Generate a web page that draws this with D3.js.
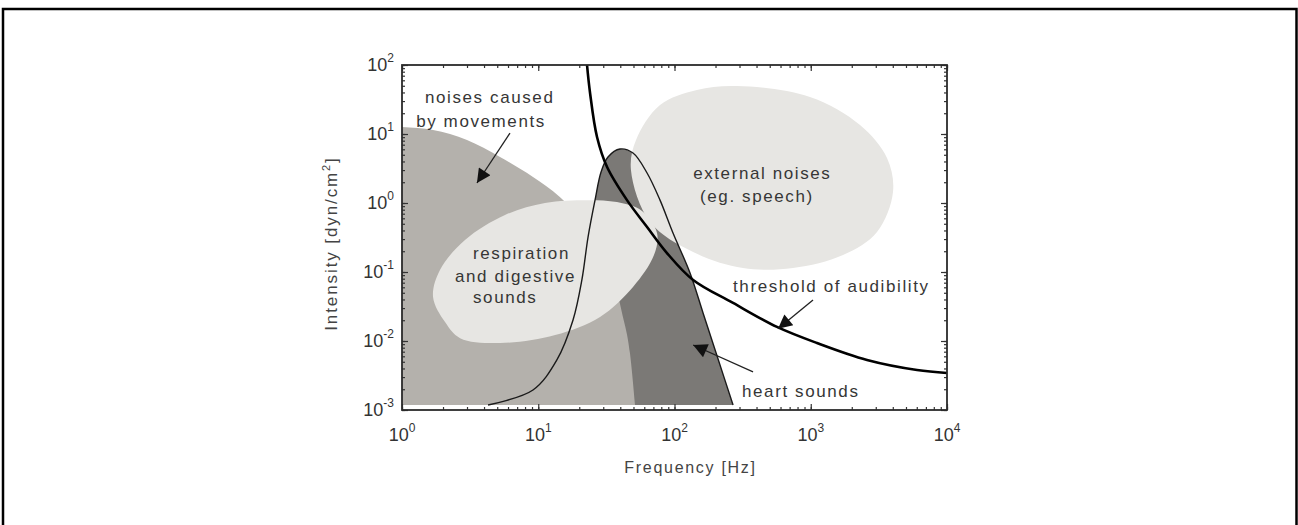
<!DOCTYPE html>
<html>
<head>
<meta charset="utf-8">
<script src="https://cdn.jsdelivr.net/npm/d3@7"></script>
<style>
  body { margin: 0; background: #fff; }
  text { font-family: "Liberation Sans", Arial, sans-serif; }
</style>
</head>
<body>
<script>
// frequency [Hz] / intensity [dyn/cm^2] outlines
var xExponents = [0, 1, 2, 3, 4];
var yExponents = [-3, -2, -1, 0, 1, 2];

var regionFloor = 0.00118;

// noises caused by movements (upper edge, region runs down to the floor)
var movementEdge = [[1, 12.6], [1.69, 11.4], [3.0, 8.18], [5.24, 4.64], [9.15, 2.38], [14.4, 1.22],
  [24.0, 0.406], [33.6, 0.126], [41.2, 0.0255], [47.1, 0.0067], [51.3, 0.00118]];

// heart sounds
var heartCurve = [[4.28, 0.00118], [9.15, 0.00195], [13.7, 0.00531], [18.0, 0.0201], [20.9, 0.0766],
  [23.2, 0.321], [26.1, 1.10], [28.9, 2.81], [32.5, 4.64], [39.8, 6.06], [49.6, 5.30], [62.9, 2.72],
  [78.3, 1.10], [97.5, 0.367], [130, 0.0968], [162, 0.0255], [202, 0.0067], [269, 0.00118]];

// respiration and digestive sounds (closed outline)
var respiration = [[22.8, 1.10], [37.8, 1.03], [57.7, 0.766], [74.4, 0.367], [70.7, 0.176], [49.6, 0.0606],
  [28.4, 0.0223], [13.3, 0.0122], [5.24, 0.00935], [2.67, 0.0110], [2.07, 0.0188], [1.69, 0.0435],
  [1.90, 0.107], [2.90, 0.291], [5.70, 0.670], [11.2, 1.00]];

// external noises (closed outline)
var externalNoise = [[288, 49.6], [987, 34.4], [2299, 13.5], [3628, 4.49], [4015, 1.44], [3064, 0.380],
  [1725, 0.176], [741, 0.114], [318, 0.114], [137, 0.195], [66.1, 0.531], [47.9, 3.01], [52.2, 8.18],
  [78.3, 26.3], [146, 43.5]];

// threshold of audibility
var threshold = [[22.8, 100], [24.0, 39.3], [27.0, 9.05], [32.0, 3.32], [44.8, 1.10], [62.9, 0.449],
  [88.1, 0.188], [137, 0.0766], [269, 0.0356], [565, 0.0160], [1111, 0.00935], [2588, 0.00531],
  [6026, 0.0038], [10000, 0.00344]];

// annotation text anchors (start of text, baseline)
var labels = [
  {text: "noises caused", at: [1.475, 28.1]},
  {text: "by movements", at: [1.27, 12.6]},
  {text: "respiration", at: [3.32, 0.154]},
  {text: "and digestive", at: [2.45, 0.0716]},
  {text: "sounds", at: [3.32, 0.0356]},
  {text: "external noises", at: [137, 2.23]},
  {text: "(eg. speech)", at: [154, 1.03]},
  {text: "threshold of audibility", at: [269, 0.0513]},
  {text: "heart sounds", at: [313, 0.00154]}
];

// arrows: from -> tip
var arrows = [
  [[6.20, 10.3], [3.55, 1.95]],
  [[1039, 0.0393], [575, 0.0150]],
  [[377, 0.00356], [137, 0.00875]]
];

var svgWidth = 1298;
var svgHeight = 525;
var plot = {left: 402, right: 947, top: 65, bottom: 410};

var svg = d3.select("body").append("svg").attr("width", svgWidth).attr("height", svgHeight);

// outer frame of the figure
svg.append("path")
  .attr("d", "M3,525V9H1296.5V525")
  .attr("fill", "none").attr("stroke", "#000").attr("stroke-width", 2.5);

var x = d3.scaleLog().domain([1, 1e4]).range([plot.left, plot.right]);
var y = d3.scaleLog().domain([1e-3, 1e2]).range([plot.bottom, plot.top]);

var defs = svg.append("defs");
defs.append("clipPath").attr("id", "plotClip")
  .append("rect")
  .attr("x", plot.left).attr("y", plot.top)
  .attr("width", plot.right - plot.left).attr("height", plot.bottom - plot.top);

var marker = defs.append("marker")
  .attr("id", "head")
  .attr("viewBox", "0 0 10 10")
  .attr("refX", 10).attr("refY", 5)
  .attr("markerUnits", "userSpaceOnUse")
  .attr("markerWidth", 18).attr("markerHeight", 14)
  .attr("orient", "auto");
marker.append("path").attr("d", "M0,0L10,5L0,10Z").attr("fill", "#111");

var g = svg.append("g").attr("clip-path", "url(#plotClip)");

var area = d3.area()
  .x(d => x(d[0]))
  .y0(y(regionFloor))
  .y1(d => y(d[1]))
  .curve(d3.curveCatmullRom.alpha(0.5));

var outline = d3.line()
  .x(d => x(d[0]))
  .y(d => y(d[1]))
  .curve(d3.curveCatmullRom.alpha(0.5));

var blob = d3.line()
  .x(d => x(d[0]))
  .y(d => y(d[1]))
  .curve(d3.curveCatmullRomClosed.alpha(0.5));

// layers: heart (dark) -> movements (medium) -> ellipses (light) -> outlines
g.append("path").attr("d", area(heartCurve)).attr("fill", "#7b7976");
g.append("path").attr("d", area.curve(d3.curveMonotoneX)(movementEdge)).attr("fill", "#b4b1ac");
g.append("path").attr("d", blob(respiration)).attr("fill", "#e7e6e3");
g.append("path").attr("d", blob(externalNoise)).attr("fill", "#e7e6e3");

g.append("path").attr("d", outline(heartCurve))
  .attr("fill", "none").attr("stroke", "#1a1a1a").attr("stroke-width", 1.4);
g.append("path").attr("d", outline(threshold))
  .attr("fill", "none").attr("stroke", "#000").attr("stroke-width", 2.6);

// axes: minor and major ticks pointing inward on every side
var majorsX = xExponents.map(e => Math.pow(10, e));
var majorsY = yExponents.map(e => Math.pow(10, e));

function tickAxis(axis, scale, majors, transform) {
  var a1 = svg.append("g").attr("transform", transform)
    .call(axis(scale).tickValues(scale.ticks()).tickSize(-3).tickFormat(""));
  var a2 = svg.append("g").attr("transform", transform)
    .call(axis(scale).tickValues(majors).tickSize(-6).tickFormat(""));
  [a1, a2].forEach(function(a) {
    a.select(".domain").remove();
    a.selectAll("line").attr("stroke", "#333").attr("stroke-width", 1.2);
  });
}
tickAxis(d3.axisBottom, x, majorsX, `translate(0, ${plot.bottom})`);
tickAxis(d3.axisTop, x, majorsX, `translate(0, ${plot.top})`);
tickAxis(d3.axisLeft, y, majorsY, `translate(${plot.left}, 0)`);
tickAxis(d3.axisRight, y, majorsY, `translate(${plot.right}, 0)`);

svg.append("rect")
  .attr("x", plot.left).attr("y", plot.top)
  .attr("width", plot.right - plot.left).attr("height", plot.bottom - plot.top)
  .attr("fill", "none").attr("stroke", "#2b2b2b").attr("stroke-width", 1.8);

// tick labels 10^n
var xLab = svg.append("g").selectAll("text").data(xExponents).enter().append("text")
  .attr("x", d => x(Math.pow(10, d)))
  .attr("y", 441)
  .attr("text-anchor", "middle")
  .attr("font-size", 18).attr("fill", "#333");
xLab.append("tspan").text("10");
xLab.append("tspan").attr("dy", -9).attr("font-size", 12).text(d => d);

var yLab = svg.append("g").selectAll("text").data(yExponents).enter().append("text")
  .attr("x", 394)
  .attr("y", d => y(Math.pow(10, d)) + 6)
  .attr("text-anchor", "end")
  .attr("font-size", 18).attr("fill", "#333");
yLab.append("tspan").text("10");
yLab.append("tspan").attr("dy", -9).attr("font-size", 12).text(d => d);

// axis titles
svg.append("text")
  .attr("x", (plot.left + plot.right) / 2 + 16)
  .attr("y", 473)
  .attr("text-anchor", "middle")
  .attr("font-size", 16).attr("letter-spacing", 1.7).attr("fill", "#444")
  .text("Frequency [Hz]");

var yTitle = svg.append("text")
  .attr("transform", `translate(337, ${(plot.top + plot.bottom) / 2 + 6}) rotate(-90)`)
  .attr("text-anchor", "middle")
  .attr("font-size", 17).attr("letter-spacing", 1.9).attr("fill", "#444");
yTitle.append("tspan").text("Intensity [dyn/cm");
yTitle.append("tspan").attr("dy", -7).attr("font-size", 11).text("2");
yTitle.append("tspan").attr("dy", 7).text("]");

// annotations
svg.append("g").selectAll("text").data(labels).enter().append("text")
  .attr("x", d => x(d.at[0]))
  .attr("y", d => y(d.at[1]))
  .attr("font-size", 17).attr("letter-spacing", 1.6).attr("fill", "#363636")
  .text(d => d.text);

svg.append("g").selectAll("line").data(arrows).enter().append("line")
  .attr("x1", d => x(d[0][0])).attr("y1", d => y(d[0][1]))
  .attr("x2", d => x(d[1][0])).attr("y2", d => y(d[1][1]))
  .attr("stroke", "#222").attr("stroke-width", 1.3)
  .attr("marker-end", "url(#head)");
</script>
</body>
</html>
